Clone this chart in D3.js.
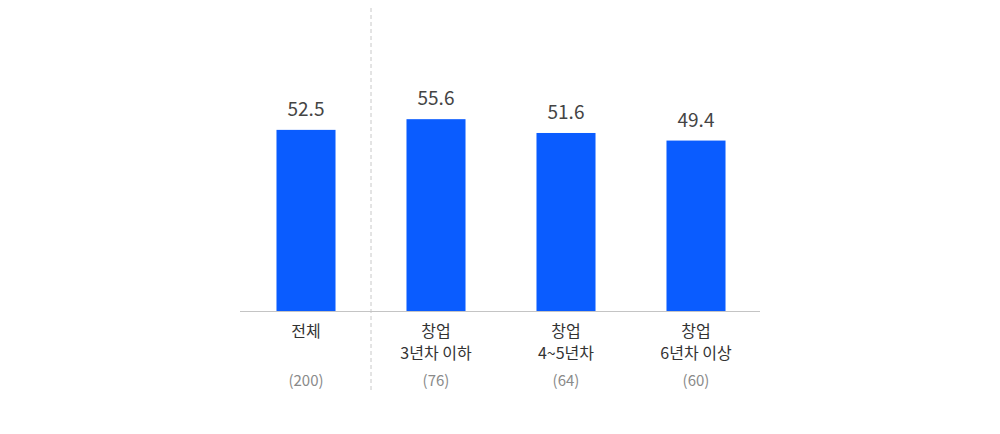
<!DOCTYPE html>
<html>
<head>
<meta charset="utf-8">
<script src="https://cdn.jsdelivr.net/npm/d3@7"></script>
<style>
  body { margin: 0; background: #fff; }
  svg text { font-family: "Noto Sans CJK KR", "Noto Sans", sans-serif; }
</style>
</head>
<body>
<div id="chart"></div>
<script>
// chart data
const categories = ["전체", "창업\n3년차 이하", "창업\n4~5년차", "창업\n6년차 이상"];
const values = [52.5, 55.6, 51.6, 49.4];
const counts = ["(200)", "(76)", "(64)", "(60)"];

const width = 1000;
const height = 434;
const baseY = 311;

const svg = d3.select("#chart")
  .append("svg")
  .attr("width", width)
  .attr("height", height);

// x scale: one band per category
const xScale = d3.scaleBand()
  .domain(categories)
  .range([241, 761])
  .paddingInner(0.546)
  .paddingOuter(0.273);

// y scale
const yScale = d3.scaleLinear()
  .domain([0, 90])
  .range([baseY, 0.5]);

// dashed divider between total and groups
const divX = xScale.range()[0] + xScale.step();
svg.append("line")
  .attr("x1", divX).attr("x2", divX)
  .attr("y1", 8).attr("y2", 392)
  .attr("stroke", "#c8c8c8")
  .attr("stroke-width", 1)
  .attr("stroke-dasharray", "4,3");

// bars
svg.selectAll(".bar")
  .data(values)
  .enter()
  .append("rect")
  .attr("class", "bar")
  .attr("x", (d, i) => xScale(categories[i]))
  .attr("y", (d) => yScale(d))
  .attr("width", xScale.bandwidth())
  .attr("height", (d) => baseY - yScale(d))
  .attr("fill", "#0a5cff");

// baseline
svg.append("line")
  .attr("x1", 240).attr("x2", 760)
  .attr("y1", baseY + 0.5).attr("y2", baseY + 0.5)
  .attr("stroke", "#c4c4c4")
  .attr("stroke-width", 1.2);

// value labels
svg.selectAll(".val")
  .data(values)
  .enter()
  .append("text")
  .attr("class", "val")
  .attr("x", (d, i) => xScale(categories[i]) + xScale.bandwidth() / 2)
  .attr("y", (d) => yScale(d) - 14)
  .attr("text-anchor", "middle")
  .attr("font-size", 19)
  .attr("fill", "#444")
  .text((d) => d.toFixed(1));

// category labels (may be two lines)
const cat = svg.selectAll(".cat")
  .data(categories)
  .enter()
  .append("text")
  .attr("class", "cat")
  .attr("text-anchor", "middle")
  .attr("font-size", 16)
  .attr("fill", "#333");

cat.selectAll("tspan")
  .data((d) => d.split("\n").map((t) => ({ t, c: d })))
  .enter()
  .append("tspan")
  .attr("x", (d) => xScale(d.c) + xScale.bandwidth() / 2)
  .attr("y", (d, i) => 337 + i * 22)
  .text((d) => d.t);

// sample counts
svg.selectAll(".cnt")
  .data(counts)
  .enter()
  .append("text")
  .attr("class", "cnt")
  .attr("x", (d, i) => xScale(categories[i]) + xScale.bandwidth() / 2)
  .attr("y", 386)
  .attr("text-anchor", "middle")
  .attr("font-size", 15)
  .attr("fill", "#8a8a8a")
  .text((d) => d);
</script>
</body>
</html>
